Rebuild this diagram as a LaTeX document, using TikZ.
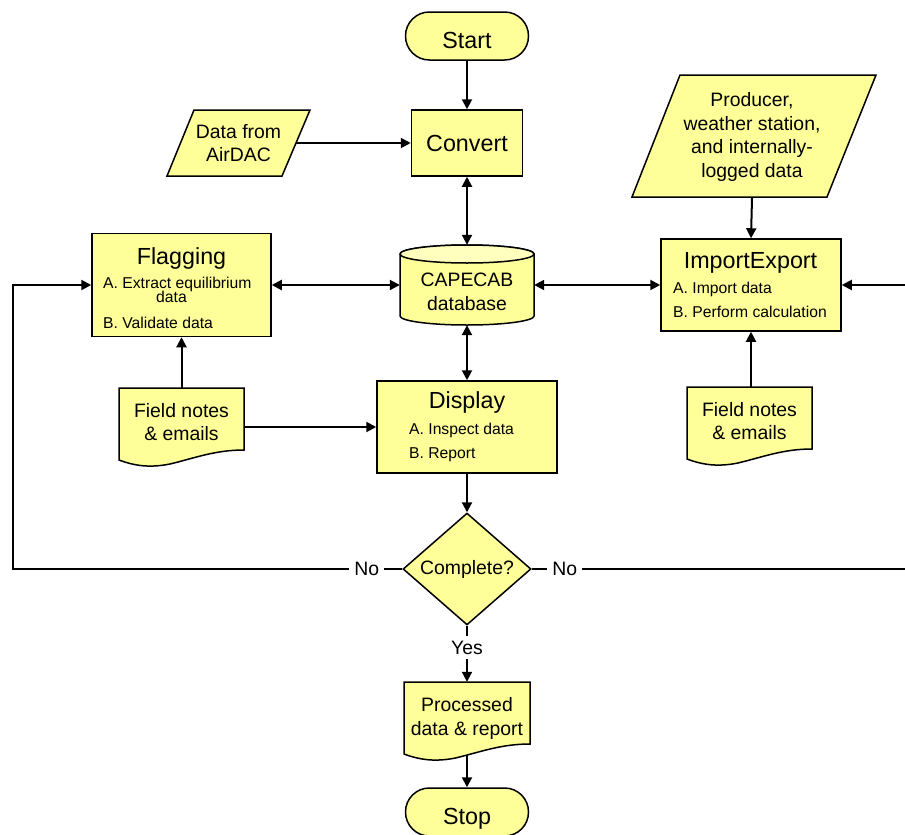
\documentclass[tikz,border=0pt]{standalone}
\usepackage{fontspec}
\setmainfont{Liberation Sans}
\usetikzlibrary{arrows.meta,shapes.geometric}
\definecolor{fillY}{RGB}{255,255,153}
\definecolor{fillTop}{RGB}{255,255,190}
\newcommand\mydocshape[3]{%
  \begin{scope}[shift={(#1,-#2)}]
    \draw[shp] (0,0) -- (0,-72) .. controls (0.128*#3,-78) and (0.248*#3,-80) .. (0.408*#3,-76)
      .. controls (0.608*#3,-70) and (0.768*#3,-62) .. (#3,-62) -- (#3,0) -- cycle;
  \end{scope}}
\tikzset{
  shp/.style={draw=black, line width=1.5pt, fill=fillY},
  conn/.style={line width=2pt},
  arr/.style={conn, -{Triangle[length=10pt,width=10pt]}},
  darr/.style={conn, {Triangle[length=10pt,width=10pt]}-{Triangle[length=10pt,width=10pt]}},
  bigt/.style={font=\fontsize{23.3}{28}\selectfont},
  body/.style={font=\fontsize{19.4}{23.5}\selectfont, align=center},
  small/.style={font=\fontsize{15.7}{19}\selectfont, inner sep=0pt, anchor=base west},
  lbl/.style={fill=white, inner xsep=5pt, inner ysep=5pt, font=\fontsize{19.4}{23.5}\selectfont},
  term/.style={shp, rounded corners=23.9pt, minimum width=123pt, minimum height=48pt, text height=25pt, text depth=0pt, inner sep=0pt},
  plain/.style={inner sep=0pt}
}
\begin{document}
\begin{tikzpicture}[x=1pt,y=1pt]
\useasboundingbox (0,0) rectangle (905,-835);

% terminals and process boxes
\node[term, bigt] (start) at (467,-36) {Start};
\node[shp, bigt, minimum width=111pt, minimum height=66pt] (convert) at (467,-143) {Convert};

% Data from AirDAC (parallelogram)
\draw[shp] (194,-110) -- (310,-110) -- (282,-176) -- (167,-176) -- cycle;
\node[body, minimum width=115pt, minimum height=66pt, inner sep=0pt] (airdac) at (238.5,-143) {Data from\\AirDAC};

% Producer (parallelogram)
\draw[shp] (680,-75) -- (876,-75) -- (827,-197) -- (632,-197) -- cycle;
\node[body, minimum height=122pt, inner sep=0pt] (producer) at (752,-137) {Producer,\\weather station,\\and internally-\\logged data};

% CAPECAB database (cylinder)
\node[minimum width=134pt, minimum height=80pt, inner sep=0pt] (db) at (467,-285) {};
\draw[shp] (400,-254) -- (400,-316) arc[start angle=180, end angle=360, x radius=67pt, y radius=9pt]
  -- (534,-254) arc[start angle=0, end angle=180, x radius=67pt, y radius=9pt] -- cycle;
\fill[fillTop] (400,-254) arc[start angle=180, end angle=540, x radius=67pt, y radius=9pt];
\draw[line width=1.5pt] (400,-254) arc[start angle=180, end angle=540, x radius=67pt, y radius=9pt];
\node[body, plain] (dbt) at (467,-292) {CAPECAB\\database};

% Flagging
\node[shp, minimum width=179pt, minimum height=103pt] (flag) at (181.5,-285) {};
\node[bigt, plain, anchor=base] (flagT) at (181.5,-264) {Flagging};
\node[small] (flagA) at (103,-288) {A. Extract equilibrium};
\node[small] (flagA2) at (156,-302) {data};
\node[small] (flagB) at (103,-328) {B. Validate data};

% ImportExport
\node[shp, minimum width=180pt, minimum height=92pt] (import) at (751,-285) {};
\node[bigt, plain, anchor=base] (impT) at (750.5,-268) {ImportExport};
\node[small] (impA) at (673,-293) {A. Import data};
\node[small] (impB) at (673,-317) {B. Perform calculation};

% Display
\node[shp, minimum width=180pt, minimum height=92pt] (display) at (467,-427) {};
\node[bigt, plain, anchor=base] (dispT) at (467,-408) {Display};
\node[small] (dispA) at (409,-434) {A. Inspect data};
\node[small] (dispB) at (409,-458) {B. Report};

% documents
\mydocshape{119}{388}{125}
\node[body, minimum width=125pt, minimum height=68pt, inner sep=0pt] (fn1) at (181.5,-422) {Field notes\\\& emails};
\mydocshape{687}{387}{125}
\node[body, minimum width=125pt, minimum height=68pt, inner sep=0pt] (fn2) at (749.5,-421) {Field notes\\\& emails};
\mydocshape{404}{682}{126}
\node[body, minimum width=126pt, minimum height=73pt, inner sep=0pt] (proc) at (467,-718.5) {Processed\\data \& report};

% decision
\node[shp, diamond, minimum width=128pt, minimum height=110pt, inner sep=0pt, body] (complete) at (467,-569) {Complete?};

% stop
\node[term, bigt] (stop) at (467,-812) {Stop};

% free ends
\coordinate (lb) at (13,-569);
\coordinate (rb) at (906,-569);
\coordinate (rt) at (906,-285);

% connectors
\draw[arr] (start.south) -- (start.south |- convert.north);
\draw[arr] (airdac.east) -- (convert.west);
\draw[darr] (convert.south) -- (convert.south |- db.north);
\draw[darr] (db.south) -- (display.north);
\draw[darr] (flag.east) -- (flag.east -| db.west);
\draw[darr] (db.east) -- (db.east -| import.west);
\draw[arr] (producer.south) -- (import.north);
\draw[arr] (fn1.north) -- (flag.south);
\draw[arr] (fn1.east |- display.west) -- (display.west);
\draw[arr] (import.south |- fn2.north) -- (import.south);
\draw[arr] (display.south) -- (complete.north);
\draw[arr] (complete.west) -- node[lbl, pos=0.091] {No} (lb) |- (flag.west);
\draw[conn] (complete.east) -- node[lbl, pos=0.088] {No} (rb);
\draw[arr] (rt) -- (import.east);
\draw[arr] (complete.south) -- node[lbl, pos=0.39] {Yes} (complete.south |- proc.north);
\draw[arr] (stop.north |- proc.south) -- (stop.north);
\end{tikzpicture}
\end{document}
